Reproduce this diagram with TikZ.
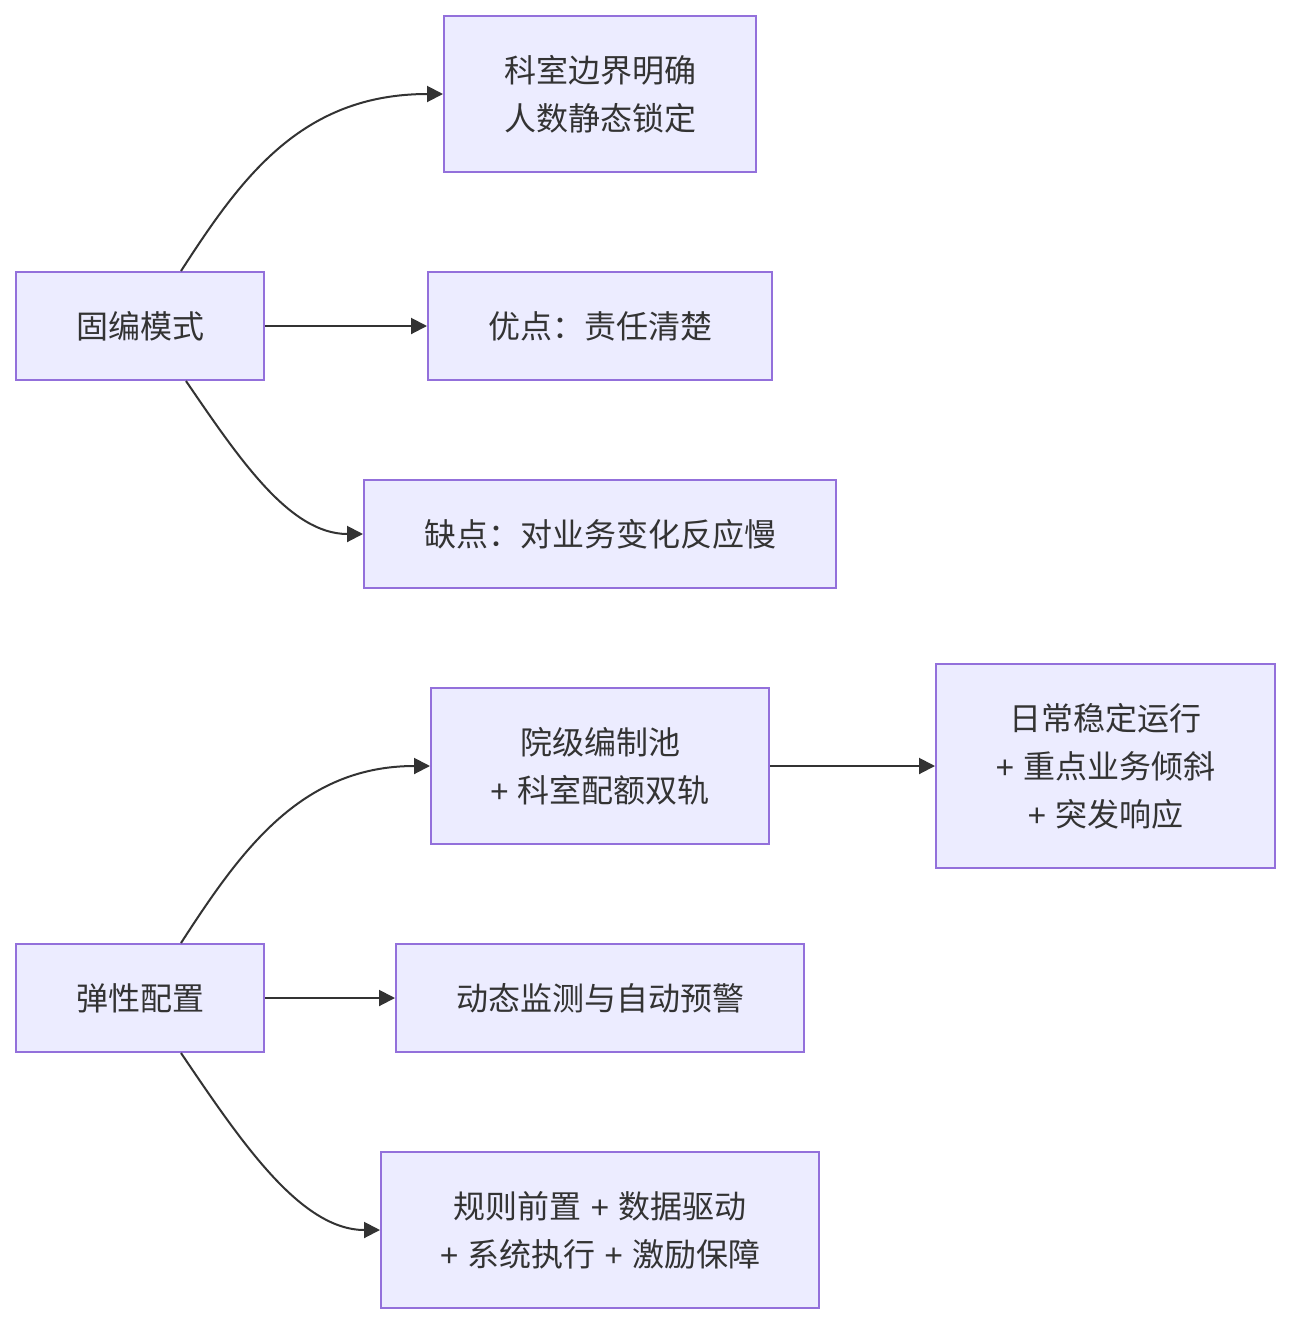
\documentclass[tikz,border=0pt]{standalone}
\usepackage{fontspec}
\setmainfont{Noto Sans CJK SC}
\newfontfamily\latinfont{Liberation Sans}
\newcommand\plussign{{\latinfont + }}
\usetikzlibrary{arrows.meta,calc}
\definecolor{boxfill}{HTML}{ECECFF}
\definecolor{boxline}{HTML}{9370DB}
\definecolor{ink}{HTML}{333333}
\begin{document}
\begin{tikzpicture}[x=0.5pt,y=-0.5pt,
  box/.style={draw=boxline,fill=boxfill,line width=1pt,inner sep=0pt,
    text=ink,font=\fontsize{16pt}{24pt}\selectfont,align=center},
  link/.style={draw=ink,line width=1pt,-{Triangle[length=8pt,width=8pt]}}]
\useasboundingbox (0,0) rectangle (1290,1324);
\fill[white] (0,0) rectangle (1290,1324);
% group 1
\node[box,minimum width=124pt,minimum height=54pt] (gb) at (140,326) {固编模式};
\node[box,minimum width=156pt,minimum height=78pt] (kx) at (600,94) {科室边界明确\\人数静态锁定};
\node[box,minimum width=172pt,minimum height=54pt] (yd) at (600,326) {优点：责任清楚};
\node[box,minimum width=236pt,minimum height=54pt] (qd) at (600,534) {缺点：对业务变化反应慢};
% group 2
\node[box,minimum width=169pt,minimum height=78pt] (yj) at (600,766) {院级编制池\\\plussign 科室配额双轨};
\node[box,minimum width=169.5pt,minimum height=102pt] (rc) at (1105.5,766) {日常稳定运行\\\plussign 重点业务倾斜\\\plussign 突发响应};
\node[box,minimum width=124pt,minimum height=54pt] (tx) at (140,998) {弹性配置};
\node[box,minimum width=204pt,minimum height=54pt] (dt) at (600,998) {动态监测与自动预警};
\node[box,minimum width=219pt,minimum height=78pt] (gz) at (600,1230) {规则前置{\latinfont\ + }数据驱动\\\plussign 系统执行{\latinfont\ + }激励保障};
% edges
\draw[link] ($(gb.north)+(41,0)$) .. controls (240,180) and (300,94) .. (kx.west);
\draw[link] (gb.east) -- (yd.west);
\draw[link] ($(gb.south)+(46,0)$) .. controls (240,460) and (290,534) .. (qd.west);
\draw[link] ($(tx.north)+(41,0)$) .. controls (240,852) and (300,766) .. (yj.west);
\draw[link] (yj.east) -- (rc.west);
\draw[link] (tx.east) -- (dt.west);
\draw[link] ($(tx.south)+(41,0)$) .. controls (240,1140) and (300,1230) .. (gz.west);
\end{tikzpicture}
\end{document}
